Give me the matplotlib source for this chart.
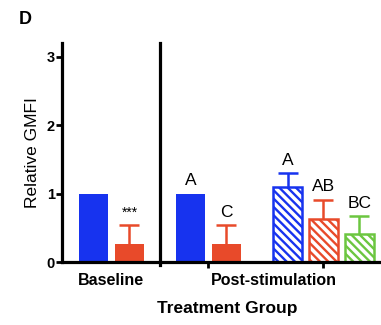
import matplotlib
matplotlib.use("Agg")
import matplotlib.pyplot as plt

plt.rcParams['font.family'] = ['Liberation Sans', 'DejaVu Sans']
plt.rcParams['hatch.linewidth'] = 1.7

# Data
groups = ["Baseline", "Post-stimulation"]
bar_values = [1.00, 0.27, 1.00, 0.26, 1.10, 0.63, 0.41]
bar_errors = [0.00, 0.27, 0.00, 0.28, 0.20, 0.28, 0.26]
bar_labels = ["", "***", "A", "C", "A", "AB", "BC"]
bar_colors = ["#1733ef", "#e84a2a", "#1733ef", "#e84a2a", "#1733ef", "#e84a2a", "#6cc640"]
bar_hatched = [False, False, False, False, True, True, True]

positions = [0, 1, 2.7, 3.7, 5.4, 6.4, 7.4]
width = 0.8

fig = plt.figure(figsize=(3.81, 3.25), dpi=100)
ax = fig.add_axes([62/381, 1-262/325, 1-62/381, (262-43)/325])

for x, v, e, c, h, lab in zip(positions, bar_values, bar_errors, bar_colors, bar_hatched, bar_labels):
    if h:
        ax.bar(x, v, width=width, facecolor='white', edgecolor=c, hatch='\\\\\\\\', linewidth=1.8, zorder=2)
    else:
        ax.bar(x, v, width=width, color=c, linewidth=0, zorder=2)
    if e > 0:
        eb = ax.errorbar(x, v, yerr=[[0], [e]], fmt='none', ecolor=c, elinewidth=1.8,
                         capsize=7, capthick=1.8, zorder=3)
        eb[1][0].set_visible(False)
    if lab:
        top = v + e
        if lab == "***":
            ax.text(x, top + 0.07, lab, ha='center', va='bottom', fontsize=10)
        else:
            ax.text(x, top + 0.08, lab, ha='center', va='bottom', fontsize=12.5)

ax.set_xlim(-0.875, 8.0)
ax.set_ylim(0, 3.2)

for s in ['top', 'right']:
    ax.spines[s].set_visible(False)
for s in ['left', 'bottom']:
    ax.spines[s].set_linewidth(2.3)

ax.plot([1.85, 1.85], [-0.04, 3.2], color='black', lw=2.3, clip_on=False, zorder=4)

ax.set_yticks([0, 1, 2, 3])
ax.set_yticklabels(["0", "1", "2", "3"], fontsize=10.5, fontweight='bold')
ax.tick_params(axis='y', width=2, length=4, pad=1)

ax.set_xticks([0.5, 5.03])
ax.set_xticklabels(groups, fontsize=11.5, fontweight='bold')
ax.set_xticks([0.5, 3.2, 6.4], minor=True)
ax.tick_params(axis='x', which='major', length=0, pad=8)
ax.tick_params(axis='x', which='minor', length=4, width=2)

ax.set_ylabel("Relative GMFI", fontsize=12.5, labelpad=5)
fig.text(227/381, 1-308/325, "Treatment Group", ha='center', va='center', fontsize=12.5, fontweight='bold')
fig.text(19/381, 1-20/325, "D", ha='left', va='center', fontsize=13, fontweight='bold')

fig.savefig("out.png", dpi=100)
